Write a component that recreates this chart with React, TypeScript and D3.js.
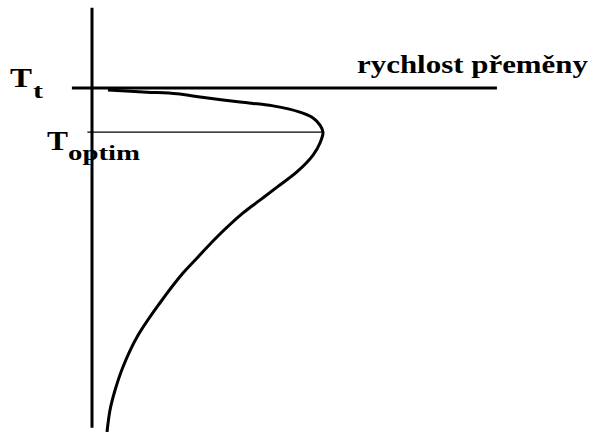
import { useEffect, useRef } from 'react';
import { select, scaleLinear, line, curveCatmullRom } from 'd3';

// rychlost přeměny (relativní, 1 = maximum) podle teploty
const temps = [99.4, 98.8, 98.3, 97.4, 95.9, 94.8, 93.0, 91.3, 89.2, 87.2, 84.0, 80.5, 75.6, 71.2, 67.4, 63.7, 56.7, 50.6, 46.2, 37.5, 27.6, 18.9, 12.2, 6.4, 0];
const rates = [0.069, 0.238, 0.368, 0.468, 0.641, 0.784, 0.9, 0.957, 0.987, 1.0, 0.987, 0.957, 0.887, 0.801, 0.727, 0.654, 0.541, 0.455, 0.394, 0.294, 0.195, 0.134, 0.1, 0.078, 0.065];

const tempT = 100; // T_t
const tempOptim = 87.2; // T_optim
const axisTemps = [123.3, 1.2];
const rateLineT = [-0.087, 1.753];
const rateLineOptim = [-0.02, 1.0];

export default function App() {
  const svgRef = useRef(null);

  useEffect(() => {
    // svg = w 593 * h 432
    const svg = select(svgRef.current);

    const x = scaleLinear().domain([0, 1]).range([92, 323]);
    const y = scaleLinear().domain([0, 100]).range([432, 88]);

    // svislá osa
    svg
      .select('.axis')
      .attr('x1', x(0))
      .attr('x2', x(0))
      .attr('y1', y(axisTemps[0]))
      .attr('y2', y(axisTemps[1]))
      .attr('stroke', '#000')
      .attr('stroke-width', 3);

    svg
      .select('.line-t')
      .attr('x1', x(rateLineT[0]))
      .attr('x2', x(rateLineT[1]))
      .attr('y1', y(tempT))
      .attr('y2', y(tempT))
      .attr('stroke', '#000')
      .attr('stroke-width', 3);

    svg
      .select('.line-optim')
      .attr('x1', x(rateLineOptim[0]))
      .attr('x2', x(rateLineOptim[1]))
      .attr('y1', y(tempOptim))
      .attr('y2', y(tempOptim))
      .attr('stroke', '#000')
      .attr('stroke-width', 1.2);

    const curve = line()
      .x((d) => x(d[0]))
      .y((d) => y(d[1]))
      .curve(curveCatmullRom.alpha(0.5));

    svg
      .selectAll('.curve')
      .data([rates.map((r, i) => [r, temps[i]])])
      .join('path')
      .attr('class', 'curve')
      .attr('d', curve)
      .attr('fill', 'none')
      .attr('stroke', '#000')
      .attr('stroke-width', 3);
  }, []);

  const font = { fontFamily: '"Liberation Serif", "Times New Roman", serif', fontWeight: 'bold' };

  return (
    <svg
      ref={svgRef}
      width={593}
      height={432}
      style={{ position: 'absolute', left: 0, top: 0, background: '#fff' }}
    >
      <line className="axis" />
      <line className="line-t" />
      <line className="line-optim" />
      <text x={10} y={87} fontSize={28} textLength={22} lengthAdjust="spacingAndGlyphs" style={font}>T</text>
      <text x={33} y={98} fontSize={22} textLength={10} lengthAdjust="spacingAndGlyphs" style={font}>t</text>
      <text x={47} y={150} fontSize={28} textLength={21} lengthAdjust="spacingAndGlyphs" style={font}>T</text>
      <text x={68} y={160} fontSize={22} textLength={72} lengthAdjust="spacingAndGlyphs" style={font}>optim</text>
      <text x={357} y={73} fontSize={26} textLength={231} lengthAdjust="spacingAndGlyphs" style={font}>rychlost přeměny</text>
    </svg>
  );
}
